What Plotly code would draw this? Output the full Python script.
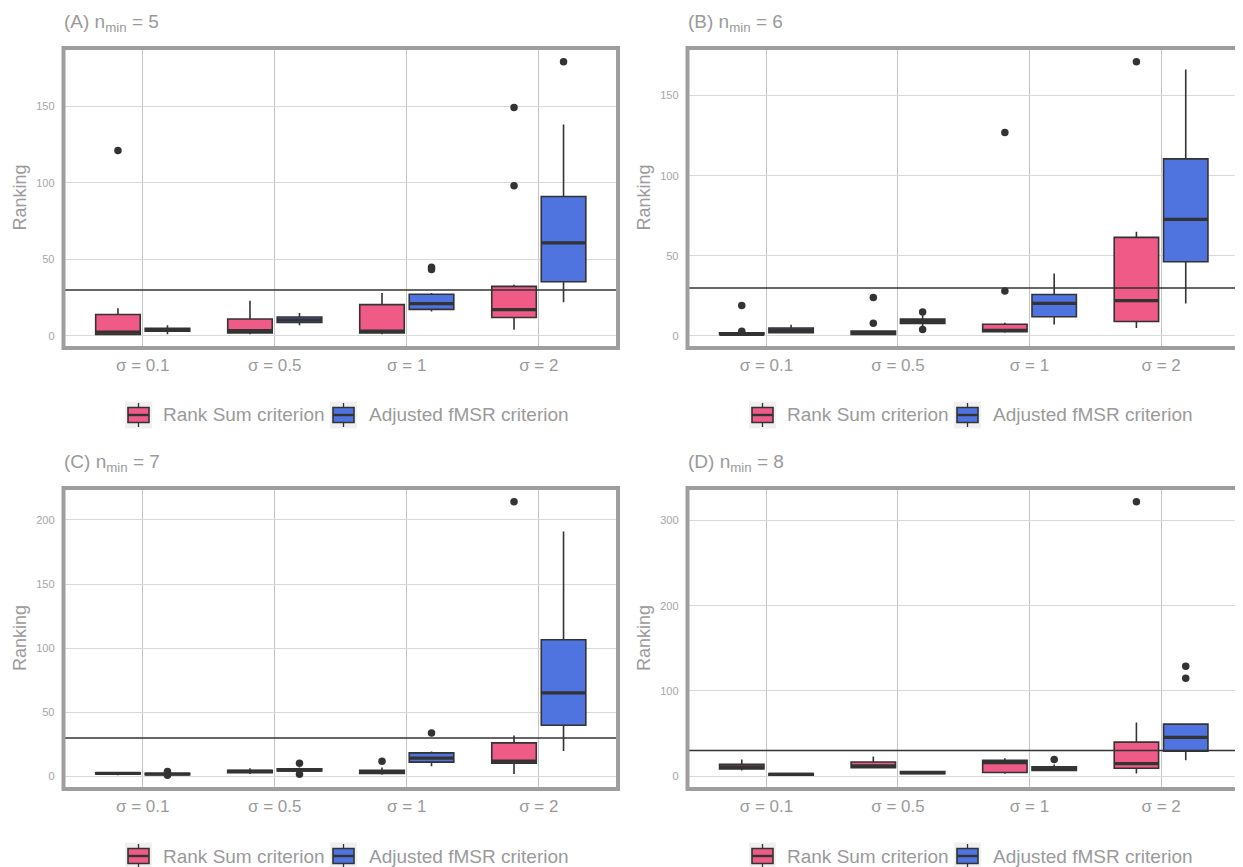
import plotly.graph_objects as go

W, H = 1243, 867

# ---------------- data ----------------
SIGMA_LABELS = ["σ = 0.1", "σ = 0.5", "σ = 1", "σ = 2"]
SERIES = ["Rank Sum criterion", "Adjusted fMSR criterion"]
COLORS = ["#EF5A86", "#4F73DF"]
PANEL_LETTERS = ["A", "B", "C", "D"]
N_MIN = [5, 6, 7, 8]
REF_LINE = 30

# (lower whisker, q1, median, q3, upper whisker) per sigma
A_rank = [(1, 1, 2.5, 14, 18), (1, 2, 3.4, 11, 23), (1, 2, 3.2, 20.4, 28), (4, 12, 17.2, 32.3, 33.3)]
A_rank_out = [[121], [], [], [149, 98]]
A_adj = [(1, 3, 4, 5, 7), (7, 8.8, 10.5, 12.3, 15), (16, 17.3, 21, 27.2, 28), (22, 35.3, 60.7, 91, 138)]
A_adj_out = [[], [], [44.8, 43.3], [179]]

B_rank = [(1, 1, 1, 2, 2), (1, 1, 2, 3, 3), (2, 2.7, 3.5, 7.3, 8.3), (5, 9, 22, 61.5, 65)]
B_rank_out = [[19, 3], [24, 8], [28, 127], [171.2]]
B_adj = [(2, 2, 3.5, 5, 7), (5, 7.8, 9, 10.5, 13), (7.2, 12, 20.4, 25.9, 39), (20.2, 46.3, 72.8, 110.5, 166.3)]
B_adj_out = [[], [15, 4], [], []]

C_rank = [(1, 2, 2.5, 3, 3.5), (2, 3, 4, 5, 6.5), (1.5, 2.5, 3.5, 5, 7), (2, 10.5, 12, 26.3, 32)]
C_rank_out = [[], [], [12], [214.2]]
C_adj = [(1.5, 1.5, 2, 2.5, 3), (4, 4.5, 5, 6, 7), (8, 11.3, 14.4, 18.5, 19.6), (20, 40, 65.2, 106.6, 191)]
C_adj_out = [[4, 1], [10.5, 1.8], [34], []]

D_rank = [(6.6, 8.5, 11, 14, 19.7), (8.9, 10, 12, 16.7, 23.2), (2.8, 4.3, 15.9, 18.6, 21), (3, 9.3, 14.7, 39.9, 63)]
D_rank_out = [[], [], [], [322]]
D_adj = [(1, 1, 2, 3, 3), (2.3, 3, 4, 5.5, 6.3), (5.8, 6.6, 8.7, 10.9, 13.6), (18.6, 29.4, 45.6, 61.1, 61.1)]
D_adj_out = [[], [], [19.5], [129, 115]]

Y_DTICK = [50, 50, 50, 100]

PANELS = [
    (A_rank, A_rank_out, A_adj, A_adj_out),
    (B_rank, B_rank_out, B_adj, B_adj_out),
    (C_rank, C_rank_out, C_adj, C_adj_out),
    (D_rank, D_rank_out, D_adj, D_adj_out),
]

# ---------------- layout helpers ----------------
PAGE_OFF = 8  # default body margin of the html page


def px(x):
    return (x - PAGE_OFF) / W


def py(y):
    return 1 - (y - PAGE_OFF) / H


# panel pixel boxes on the page (left, top, right, bottom)
BOXES = [(63.5, 48, 618, 348), (687.5, 48, 1240, 348),
         (63.5, 488, 618, 789), (687.5, 488, 1240, 789)]

DODGE = 0.75
BOX_W = DODGE / 2 * 0.9
DARK = "#333333"
TXT = "#9a9a9a"
FONT = "Liberation Sans, Arial, sans-serif"

fig = go.Figure()
shapes = []
annotations = []
layout_axes = {}

for p, (rank, rank_out, adj, adj_out) in enumerate(PANELS):
    n = "" if p == 0 else str(p + 1)
    xa, ya = "x" + n, "y" + n
    allvals = []
    for s, (stats, outs) in enumerate([(rank, rank_out), (adj, adj_out)]):
        off = (-1 if s == 0 else 1) * DODGE / 4
        pos = [i + 1 + off for i in range(len(SIGMA_LABELS))]
        fig.add_trace(go.Box(
            x=pos,
            lowerfence=[st[0] for st in stats], q1=[st[1] for st in stats],
            median=[st[2] for st in stats], q3=[st[3] for st in stats],
            upperfence=[st[4] for st in stats],
            width=BOX_W, whiskerwidth=0, boxpoints=False,
            fillcolor=COLORS[s], line=dict(color=DARK, width=1.6),
            name=SERIES[s], showlegend=False, xaxis=xa, yaxis=ya,
            orientation="v",
        ))
        mx, my = [], []
        for xp, st in zip(pos, stats):
            mx += [xp - BOX_W / 2, xp + BOX_W / 2, None]
            my += [st[2], st[2], None]
            allvals += list(st)
        fig.add_trace(go.Scatter(x=mx, y=my, mode="lines", line=dict(color=DARK, width=3.2),
                                 showlegend=False, hoverinfo="skip", xaxis=xa, yaxis=ya))
        ox, oy = [], []
        for xp, o in zip(pos, outs):
            ox += [xp] * len(o)
            oy += o
            allvals += o
        fig.add_trace(go.Scatter(x=ox, y=oy, mode="markers",
                                 marker=dict(color=DARK, size=7.5, line=dict(width=0)),
                                 showlegend=False, xaxis=xa, yaxis=ya))
    lo, hi = min(allvals), max(allvals)
    pad = 0.05 * (hi - lo)
    l, t, r, b = BOXES[p]
    layout_axes["xaxis" + n] = dict(
        domain=[px(l), px(r)], range=[0.4, 4.6], anchor=ya,
        tickvals=[1, 2, 3, 4], ticktext=SIGMA_LABELS,
        showgrid=True, gridcolor="#c4c4c4", gridwidth=1, zeroline=False,
        showline=False, ticks="", tickfont=dict(size=17, color=TXT, family=FONT),
        ticklabelstandoff=5, fixedrange=True,
    )
    layout_axes["yaxis" + n] = dict(
        domain=[py(b), py(t)], range=[lo - pad, hi + pad], anchor=xa,
        dtick=Y_DTICK[p], tick0=0,
        showgrid=True, gridcolor="#d9d9d9", gridwidth=1.4, zeroline=False,
        showline=False, ticks="", tickfont=dict(size=11, color="#a6a6a6", family=FONT),
        ticklabelstandoff=8, fixedrange=True,
    )
    # reference line
    shapes.append(dict(type="line", xref=xa + " domain", yref=ya, x0=0, x1=1,
                       y0=REF_LINE, y1=REF_LINE, line=dict(color=DARK, width=1.5), layer="above"))
    # panel border
    shapes.append(dict(type="rect", xref=xa + " domain", yref=ya + " domain", x0=0, x1=1, y0=0, y1=1,
                       line=dict(color="#9e9e9e", width=4), layer="above"))
    # title
    annotations.append(dict(
        text=f"({PANEL_LETTERS[p]}) n<sub>min</sub> = {N_MIN[p]}",
        x=px(l - 1.5), y=py(t - 25), xref="paper", yref="paper",
        xanchor="left", yanchor="middle", showarrow=False,
        font=dict(size=19, color=TXT, family=FONT)))
    # y-axis title
    annotations.append(dict(
        text="Ranking", x=px(l - 44), y=py((t + b) / 2), xref="paper", yref="paper",
        xanchor="center", yanchor="middle", textangle=-90, showarrow=False,
        font=dict(size=18, color=TXT, family=FONT)))
    # legend (ggplot-style keys)
    leg_y = b + 67
    col_shift = l - 63.5
    for s, (kx, tx) in enumerate([(125, 161), (330, 367)]):
        kx += col_shift
        tx += col_shift
        shapes.append(dict(type="rect", xref="paper", yref="paper",
                           x0=px(kx), x1=px(kx + 27), y0=py(leg_y - 13.5), y1=py(leg_y + 13.5),
                           fillcolor="#f0f0f0", line=dict(width=0), layer="above"))
        shapes.append(dict(type="line", xref="paper", yref="paper",
                           x0=px(kx + 13.5), x1=px(kx + 13.5), y0=py(leg_y - 12), y1=py(leg_y + 12),
                           line=dict(color=DARK, width=1.3), layer="above"))
        shapes.append(dict(type="rect", xref="paper", yref="paper",
                           x0=px(kx + 3), x1=px(kx + 24), y0=py(leg_y - 7.5), y1=py(leg_y + 7.5),
                           fillcolor=COLORS[s], line=dict(color=DARK, width=1.6), layer="above"))
        shapes.append(dict(type="line", xref="paper", yref="paper",
                           x0=px(kx + 3), x1=px(kx + 24), y0=py(leg_y), y1=py(leg_y),
                           line=dict(color=DARK, width=2.4), layer="above"))
        annotations.append(dict(
            text=SERIES[s], x=px(tx), y=py(leg_y), xref="paper", yref="paper",
            xanchor="left", yanchor="middle", showarrow=False,
            font=dict(size=19, color=TXT, family=FONT)))

fig.update_layout(
    width=W, height=H, margin=dict(l=0, r=0, t=0, b=0),
    paper_bgcolor="white", plot_bgcolor="white",
    showlegend=False, shapes=shapes, annotations=annotations,
    font=dict(family=FONT, color=TXT),
    **layout_axes,
)

fig.write_html("out.html")
